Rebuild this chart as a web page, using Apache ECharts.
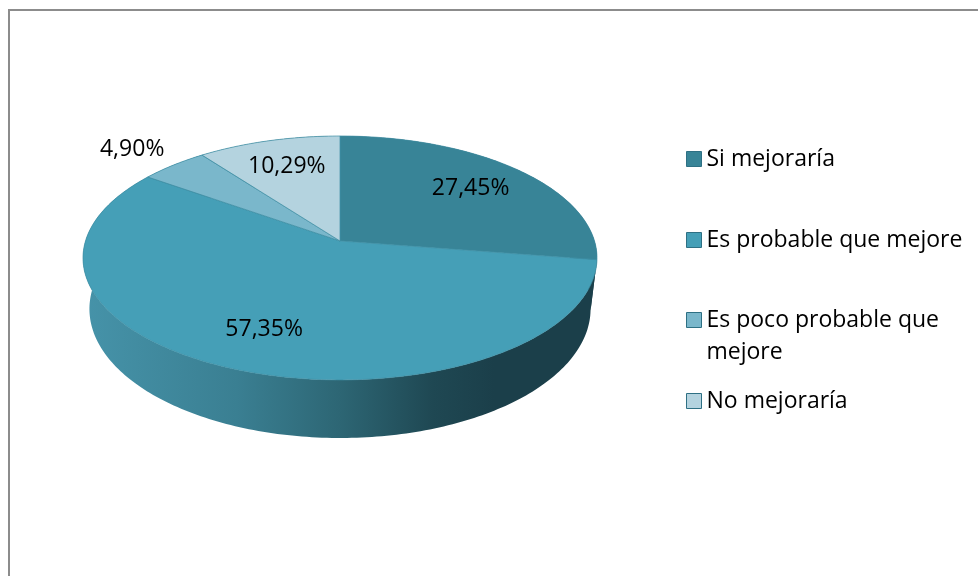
<!DOCTYPE html>
<html>
<head>
<meta charset="utf-8">
<script src="https://cdn.jsdelivr.net/npm/echarts@6/dist/echarts.min.js"></script>
<style>
  html, body { margin: 0; padding: 0; background: #fff; }
  #chart { width: 978px; height: 576px; }
</style>
</head>
<body>
<div id="chart"></div>
<script>
// datos
var categories = ['Si mejoraría', 'Es probable que mejore', 'Es poco probable que mejore', 'No mejoraría'];
var values = [27.45, 57.35, 4.90, 10.29];
var colors = ['#388497', '#459fb7', '#7ab7cb', '#b4d3df'];

var FONT = 'Open Sans';
var total = values.reduce(function (a, b) { return a + b; }, 0);

// geometria del pastel 3D (perspectiva simple)
var cx = 340, cy = 241, A = 254.5, B = 119.6, K = 0.139, H = 50, SHRINK = 0.975;

function proj(ang, r, bottom) {
  var t = ang * Math.PI / 180;
  var X = Math.sin(t) * r, Z = -Math.cos(t) * r;
  var w = 1 - K * Z;
  var s = bottom ? SHRINK : 1;
  return [cx + A * s * X / w, cy + (B * Z + (bottom ? H : 0)) / w];
}

function sliceAngles(idx) {
  var before = 0;
  for (var i = 0; i < idx; i++) before += values[i];
  return [before / total * 360, (before + values[idx]) / total * 360];
}

function arc(a1, a2, bottom) {
  var pts = [];
  var n = Math.max(2, Math.ceil(a2 - a1));
  for (var i = 0; i <= n; i++) pts.push(proj(a1 + (a2 - a1) * i / n, 1, bottom));
  return pts;
}

var wallGradient = new echarts.graphic.LinearGradient(83, 0, 597, 0, [
  { offset: 0, color: '#4693a9' },
  { offset: 0.3, color: '#3a7f92' },
  { offset: 0.5, color: '#2d6674' },
  { offset: 0.68, color: '#1f4853' },
  { offset: 0.8, color: '#1b3f4a' },
  { offset: 1, color: '#1b3f4a' }
], true);

function fmt(v) { return v.toFixed(2).replace('.', ',') + '%'; }

var series = [];

// paredes laterales
series.push({
  type: 'custom',
  name: 'walls',
  coordinateSystem: 'none',
  silent: true,
  z: 1,
  data: values.map(function (v) { return [v]; }),
  renderItem: function (params, api) {
    var a = sliceAngles(params.dataIndex);
    var top = arc(a[0], a[1], false);
    var bot = arc(a[0], a[1], true).reverse();
    return {
      type: 'polygon',
      shape: { points: top.concat(bot) },
      style: { fill: wallGradient, stroke: null }
    };
  }
});

// caras superiores, una serie por categoria
categories.forEach(function (name, idx) {
  series.push({
    type: 'custom',
    name: name,
    coordinateSystem: 'none',
    silent: true,
    z: 2,
    itemStyle: { color: colors[idx] },
    data: [[values[idx]]],
    renderItem: function (params, api) {
      var a = sliceAngles(idx);
      var pts = [[cx, cy]].concat(arc(a[0], a[1], false));
      return {
        type: 'polygon',
        shape: { points: pts },
        style: { fill: colors[idx], stroke: '#3d8ea4', lineWidth: 0.7 }
      };
    }
  });
});

// etiquetas de porcentaje
series.push({
  type: 'custom',
  name: 'labels',
  coordinateSystem: 'none',
  silent: true,
  z: 3,
  data: values.map(function (v) { return [v]; }),
  renderItem: function (params, api) {
    var v = api.value(0);
    var a = sliceAngles(params.dataIndex);
    var mid = (a[0] + a[1]) / 2;
    var outside = v / total < 0.06;
    var p = proj(mid, outside ? 1.06 : 0.72, false);
    return {
      type: 'text',
      x: p[0],
      y: p[1],
      style: {
        text: fmt(v),
        fontFamily: FONT,
        fontSize: 23,
        fill: '#000',
        align: outside ? 'right' : 'center',
        verticalAlign: outside ? 'bottom' : 'middle'
      }
    };
  }
});

var legendTops = [143, 224, 272, 385];
var legends = categories.map(function (name, i) {
  return {
    data: [name],
    left: 686,
    top: legendTops[i],
    padding: 0,
    orient: 'vertical',
    selectedMode: false,
    icon: 'rect',
    itemWidth: 15,
    itemHeight: 15,
    itemStyle: { borderColor: '#2e7084', borderWidth: 1 },
    // la linea vacia deja el icono alineado con la primera linea del texto
    formatter: i === 2 ? function (n) { return '\n' + n; } : '{name}',
    textStyle: {
      fontFamily: FONT,
      fontSize: 23,
      color: '#000',
      lineHeight: 32,
      width: 272,
      overflow: 'break'
    }
  };
});

var chart = echarts.init(document.getElementById('chart'));
chart.setOption({
  backgroundColor: '#fff',
  animation: false,
  legend: legends,
  graphic: [{
    type: 'polyline',
    shape: { points: [[9, 576], [9, 10], [978, 10]] },
    style: { stroke: '#8c8c8c', lineWidth: 2, fill: null },
    silent: true
  }],
  series: series
});
</script>
</body>
</html>
